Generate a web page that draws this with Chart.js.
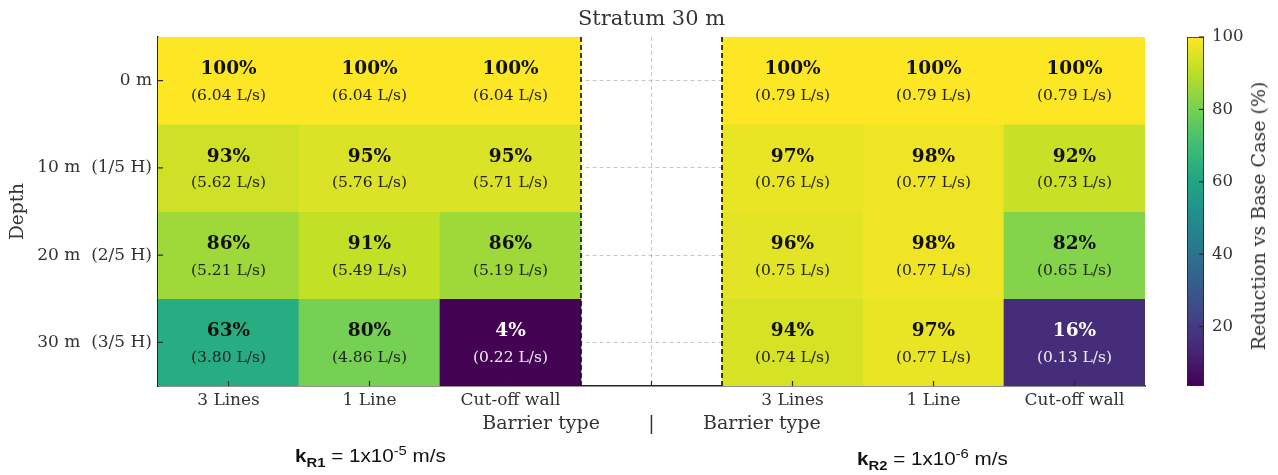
<!DOCTYPE html>
<html>
<head>
<meta charset="utf-8">
<script src="https://cdn.jsdelivr.net/npm/chart.js@4/dist/chart.umd.min.js"></script>
<style>
html,body{margin:0;padding:0;background:#fff;}
#wrap{position:relative;width:1278px;height:475px;overflow:hidden;background:#fff;}
#main{position:absolute;left:0;top:0;}
#cbar{position:absolute;left:1150px;top:0;}
.klab{position:absolute;font-family:"Liberation Sans",Arial,sans-serif;font-size:19px;color:#111;white-space:nowrap;line-height:20px;transform-origin:0 50%;transform:scaleX(1.085);}
.klab sub,.klab sup{font-size:0.72em;line-height:0;}
.cblab{position:absolute;left:1258px;top:216px;transform:translate(-50%,-50%) rotate(-90deg);font-family:"DejaVu Serif",serif;font-size:19px;color:#333;white-space:nowrap;}
</style>
</head>
<body>
<div id="wrap">
  <canvas id="main" width="1278" height="475"></canvas>
  <canvas id="cbar" width="128" height="475"></canvas>
  <div class="cblab">Reduction vs Base Case (%)</div>
  <div class="klab" style="left:295px;top:446px;"><b>k<sub>R1</sub></b> = 1x10<sup>-5</sup> m/s</div>
  <div class="klab" style="left:857px;top:449px;"><b>k<sub>R2</sub></b> = 1x10<sup>-6</sup> m/s</div>
</div>
<script>
// ---------------- data ----------------
const chartTitle = 'Stratum 30 m';
const xTickLabels = ['3 Lines', '1 Line', 'Cut-off wall', '', '3 Lines', '1 Line', 'Cut-off wall'];
const depthLabels = ['0 m', '10 m  (1/5 H)', '20 m  (2/5 H)', '30 m  (3/5 H)'];
const reductionKR1 = [[100, 100, 100], [93, 95, 95], [86, 91, 86], [63, 80, 4]];
const flowKR1 = [[6.04, 6.04, 6.04], [5.62, 5.76, 5.71], [5.21, 5.49, 5.19], [3.80, 4.86, 0.22]];
const reductionKR2 = [[100, 100, 100], [97, 98, 92], [96, 98, 82], [94, 97, 16]];
const flowKR2 = [[0.79, 0.79, 0.79], [0.76, 0.77, 0.73], [0.75, 0.77, 0.65], [0.74, 0.77, 0.13]];
const colorbarTicks = [20, 40, 60, 80, 100];
const colorMin = 3.6;
const colorMax = 100;

// ---------------- style ----------------
const SERIF = 'DejaVu Serif';
const viridisStops = ['#440154','#482475','#414487','#355f8d','#2a788e','#21918c','#22a884','#44bf70','#7ad151','#bddf26','#fde725'];
function hexToRgb(h){return [parseInt(h.slice(1,3),16),parseInt(h.slice(3,5),16),parseInt(h.slice(5,7),16)];}
function viridis(t){
  t = Math.min(1, Math.max(0, t));
  const p = t * 10, i = Math.min(9, Math.floor(p)), f = p - i;
  const a = hexToRgb(viridisStops[i]), b = hexToRgb(viridisStops[i+1]);
  const c = a.map((v,k)=>Math.round(v + (b[k]-v)*f));
  return 'rgb(' + c.join(',') + ')';
}
const norm = v => (v - colorMin) / (colorMax - colorMin);

Chart.defaults.font.family = SERIF;
Chart.defaults.color = '#333';

// rows with gap column in the middle
const rowValues = depthLabels.map((_, r) => [...reductionKR1[r], null, ...reductionKR2[r]]);
const rowFlows = depthLabels.map((_, r) => [...flowKR1[r], null, ...flowKR2[r]]);

const datasets = depthLabels.map((d, r) => ({
  label: d,
  data: rowValues[r].map(v => v === null ? null : [r - 0.5, r + 0.5]),
  backgroundColor: rowValues[r].map(v => v === null ? 'rgba(0,0,0,0)' : viridis(norm(v))),
  borderWidth: 0,
  barPercentage: 1,
  categoryPercentage: 1,
  grouped: false
}));

const gridColor = 'rgba(150,150,150,0.6)';
const spineColor = '#262626';

const heatPlugin = {
  id: 'heatLabels',
  afterDatasetsDraw(chart) {
    const ctx = chart.ctx, xs = chart.scales.x, ys = chart.scales.y;
    ctx.save();
    ctx.textAlign = 'center';
    ctx.textBaseline = 'middle';
    rowValues.forEach((row, r) => {
      row.forEach((v, c) => {
        if (v === null) return;
        const x = xs.getPixelForValue(c), y = ys.getPixelForValue(r);
        const light = v < 50;
        ctx.fillStyle = light ? '#ffffff' : '#111111';
        ctx.font = 'bold 18.5px "' + SERIF + '"';
        ctx.fillText(v + '%', x, y - 11);
        ctx.fillStyle = light ? '#eeeeee' : '#222222';
        ctx.font = '15.5px "' + SERIF + '"';
        ctx.fillText('(' + rowFlows[r][c].toFixed(2) + ' L/s)', x, y + 15.5);
      });
    });
    ctx.restore();
  },
  afterDraw(chart) {
    const ctx = chart.ctx, xs = chart.scales.x, ys = chart.scales.y, a = chart.chartArea;
    ctx.save();
    // separators
    ctx.strokeStyle = '#000';
    ctx.lineWidth = 1.5;
    ctx.setLineDash([5, 3]);
    [2.5, 3.5].forEach(b => {
      const x = (xs.getPixelForValue(Math.floor(b)) + xs.getPixelForValue(Math.ceil(b))) / 2;
      ctx.beginPath(); ctx.moveTo(x, a.top); ctx.lineTo(x, a.bottom); ctx.stroke();
    });
    // inward ticks
    ctx.setLineDash([]);
    ctx.strokeStyle = spineColor;
    ctx.lineWidth = 1.2;
    xTickLabels.forEach((_, i) => {
      const x = xs.getPixelForValue(i);
      ctx.beginPath(); ctx.moveTo(x, a.bottom); ctx.lineTo(x, a.bottom - 5); ctx.stroke();
    });
    depthLabels.forEach((_, i) => {
      const y = ys.getPixelForValue(i);
      ctx.beginPath(); ctx.moveTo(a.left, y); ctx.lineTo(a.left + 5, y); ctx.stroke();
    });
    ctx.restore();
  }
};

new Chart(document.getElementById('main'), {
  type: 'bar',
  data: { labels: xTickLabels, datasets },
  options: {
    responsive: false,
    animation: false,
    layout: { padding: { left: 0, right: 133, top: 0, bottom: 0 } },
    plugins: {
      legend: { display: false },
      tooltip: { enabled: false },
      title: {
        display: true, text: chartTitle, fullSize: false, color: '#333',
        font: { family: SERIF, size: 21, weight: 'normal', lineHeight: 1.2 },
        padding: { top: 6.5, bottom: 5.3 }
      }
    },
    scales: {
      x: {
        type: 'category',
        offset: true,
        z: 1,
        grid: { offset: false, color: gridColor, lineWidth: 0.9, drawTicks: false },
        border: { display: true, color: spineColor, width: 1.5, dash: [4, 3] },
        ticks: { color: '#333', font: { family: SERIF, size: 17 }, padding: 4, autoSkip: false, maxRotation: 0 },
        title: {
          display: true, text: 'Barrier type        |        Barrier type', color: '#333',
          font: { family: SERIF, size: 19, lineHeight: 1.2 }, padding: { top: 0, bottom: 40 }
        },
        afterFit(s) { s.height = 89; }
      },
      y: {
        type: 'linear',
        min: -0.5, max: 3.5,
        reverse: true,
        z: 1,
        afterBuildTicks(s) { s.ticks = depthLabels.map((_, i) => ({ value: i })); },
        grid: { color: gridColor, lineWidth: 0.9, drawTicks: false },
        border: { display: true, color: spineColor, width: 1.5, dash: [4, 3] },
        ticks: { color: '#333', font: { family: SERIF, size: 17 }, padding: 6,
          callback: (v, i) => depthLabels[i] },
        title: {
          display: true, text: 'Depth', color: '#333',
          font: { family: SERIF, size: 18.5, lineHeight: 1.2 }, padding: { top: 7 }
        },
        afterFit(s) { s.width = 158; }
      }
    }
  },
  plugins: [heatPlugin]
});

// ---------------- colour bar ----------------
const cbTickPlugin = {
  id: 'cbTicks',
  afterDraw(chart) {
    const ctx = chart.ctx, ys = chart.scales.y, a = chart.chartArea;
    ctx.save();
    ctx.strokeStyle = spineColor; ctx.lineWidth = 1.2;
    colorbarTicks.forEach(t => {
      const y = ys.getPixelForValue(t);
      ctx.beginPath(); ctx.moveTo(a.right, y); ctx.lineTo(a.right - 5, y); ctx.stroke();
    });
    ctx.restore();
  }
};

new Chart(document.getElementById('cbar'), {
  type: 'bar',
  data: {
    labels: [''],
    datasets: [{
      data: [[colorMin, colorMax]],
      backgroundColor(c) {
        const ch = c.chart, ys = ch.scales.y;
        if (!ch.chartArea || !ys) return viridisStops[5];
        const g = ch.ctx.createLinearGradient(0, ys.getPixelForValue(colorMin), 0, ys.getPixelForValue(colorMax));
        viridisStops.forEach((s, i) => g.addColorStop(i / (viridisStops.length - 1), s));
        return g;
      },
      borderColor: spineColor,
      borderWidth: 1.2,
      borderSkipped: false,
      barPercentage: 1,
      categoryPercentage: 1
    }]
  },
  options: {
    responsive: false,
    animation: false,
    layout: { padding: { left: 37, right: 0, top: 37, bottom: 89 } },
    plugins: { legend: { display: false }, tooltip: { enabled: false } },
    scales: {
      x: { display: false },
      y: {
        position: 'right',
        min: colorMin, max: colorMax,
        afterBuildTicks(s) { s.ticks = colorbarTicks.map(v => ({ value: v })); },
        grid: { display: false, drawTicks: false },
        border: { display: false },
        ticks: { color: '#333', font: { family: SERIF, size: 16.5 }, padding: 8 },
        afterFit(s) { s.width = 74; }
      }
    }
  },
  plugins: [cbTickPlugin]
});
</script>
</body>
</html>
